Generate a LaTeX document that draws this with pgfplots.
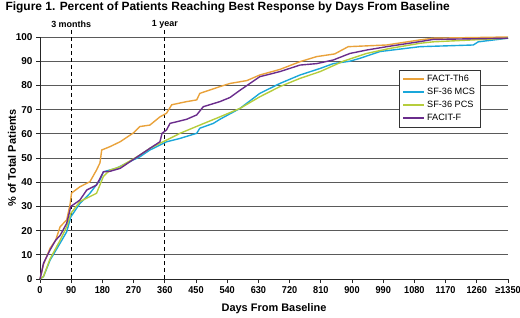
\documentclass[border=0pt]{standalone}
\usepackage{fontspec}
\setmainfont{Liberation Sans}
\usepackage{pgfplots}
\pgfplotsset{compat=1.18}
\definecolor{cOr}{HTML}{E9A23B}
\definecolor{cCy}{HTML}{1AA7DA}
\definecolor{cGr}{HTML}{B6CD3C}
\definecolor{cPu}{HTML}{6A2C8C}
\definecolor{cGrid}{HTML}{5A5A5A}
\begin{document}
\begin{tikzpicture}
\begin{axis}[
  scale only axis, width=468bp, height=242bp,
  xmin=0, xmax=1350, ymin=0, ymax=100,
  axis lines=left, axis line style={-, line width=1pt, black!85},
  xtick={0,90,180,270,360,450,540,630,720,810,900,990,1080,1170,1260,1350},
  xticklabels={0,90,180,270,360,450,540,630,720,810,900,990,1080,1170,1260,{≥1350}},
  ytick={0,10,...,100},
  tick align=outside, major tick length=4bp,
  tick style={line width=0.9pt, black!85},
  ymajorgrids, grid style={cGrid, line width=1pt},
  /pgf/number format/assume math mode=true,
  tick label style={font=\bfseries\fontsize{10}{12}\selectfont},
  xticklabel style={xscale=0.92},
  xlabel={Days From Baseline},
  xlabel style={at={(axis description cs:0.5,-0.124)}, anchor=center, font=\bfseries\fontsize{11}{13}\selectfont},
  ylabel={\% of Total Patients},
  ylabel style={at={(axis description cs:-0.06,0.5)}, anchor=center, font=\bfseries\fontsize{11}{13}\selectfont},
  title={Figure 1. Percent of Patients Reaching Best Response by Days From Baseline},
  title style={at={(axis description cs:0,1)}, anchor=west, xshift=-38bp, yshift=24bp, font=\bfseries\fontsize{12}{14}\selectfont},
  clip=false,
  legend style={at={(rel axis cs:0.767,0.864)}, anchor=north west, draw=black!80, line width=0.8pt,
    font=\fontsize{9.2}{11}\selectfont, row sep=1.0bp, inner xsep=3bp, inner ysep=3bp},
  legend cell align=left,
  legend image code/.code={\draw[#1, line width=1.8pt] (0bp,0bp) -- (21bp,0bp);},
]
\addplot[forget plot, black, line width=1pt, dash pattern=on 4bp off 3bp] coordinates {(90,0) (90,103)};
\addplot[forget plot, black, line width=1pt, dash pattern=on 4bp off 3bp] coordinates {(360,0) (360,103)};
\node[font=\bfseries\fontsize{9}{11}\selectfont] at (axis cs:90,105.2) {3 months};
\node[font=\bfseries\fontsize{9}{11}\selectfont] at (axis cs:360,105.2) {1 year};

\addplot[cOr, line width=1.4pt] coordinates {
(0,0) (10,6) (29,12.7) (45,16) (58,21.6) (77,24.4) (87,31) (91,35.5) (115,38.1) (144,40.2) (163,45) (173,48) (178,53.3) (202,54.7) (231,56.7) (269,60.3) (288,63) (317,63.6) (346,67) (365,68.5) (380,72) (423,73.3) (452,74) (461,76.7) (519,79.5) (548,80.8) (597,82) (634,84.3) (692,86.6) (750,89.8) (798,91.9) (850,93) (889,96) (1000,96.7) (1096,98.8) (1134,99.5) (1350,100)
};
\addlegendentry{FACT-Th6}
\addplot[cCy, line width=1.4pt] coordinates {
(0,0) (10,1) (29,7.8) (58,14.8) (77,19.5) (89,25.7) (115,31.2) (144,35.4) (173,40.9) (183,44.3) (221,45.8) (269,49.2) (288,50.5) (317,53.3) (365,56.7) (404,58.1) (452,60.2) (461,62.3) (500,64.3) (519,66) (577,70.5) (634,76.7) (692,80.8) (750,84.3) (808,87) (846,89) (894,90) (923,91.2) (981,94) (1096,96) (1250,96.7) (1264,98) (1350,99.5)
};
\addlegendentry{SF-36 MCS}
\addplot[cGr, line width=1.4pt] coordinates {
(0,0) (10,1) (29,8.3) (58,16) (77,21.6) (89,27.1) (115,32) (163,35.4) (183,42.4) (202,45) (231,46.4) (288,51.2) (317,54) (365,57.4) (404,60.2) (461,63.6) (519,67) (577,70.5) (634,75.3) (692,79.5) (750,82.9) (808,85.7) (875,90) (942,93.2) (1010,95.3) (1096,97.4) (1134,98) (1350,99.5)
};
\addlegendentry{SF-36 PCS}
\addplot[cPu, line width=1.4pt] coordinates {
(0,0) (5,3) (10,6.5) (29,12) (45,16) (58,18) (77,23) (89,30) (115,32.6) (135,36.8) (163,38.8) (183,44.3) (202,44.5) (231,45.7) (260,48.5) (288,51.2) (317,54) (346,56.7) (352,60.2) (365,61.6) (375,64.3) (423,66) (452,67.8) (471,71.2) (519,73.3) (548,75) (577,78) (634,83.6) (692,85.7) (750,88.4) (798,89) (846,90.5) (894,93.2) (942,94.6) (1000,96) (1096,98.1) (1134,99) (1350,99.5)
};
\addlegendentry{FACIT-F}
\end{axis}
\pgfresetboundingbox
\path[use as bounding box] (-40bp,-39bp) rectangle (480bp,279bp);
\end{tikzpicture}
\end{document}
